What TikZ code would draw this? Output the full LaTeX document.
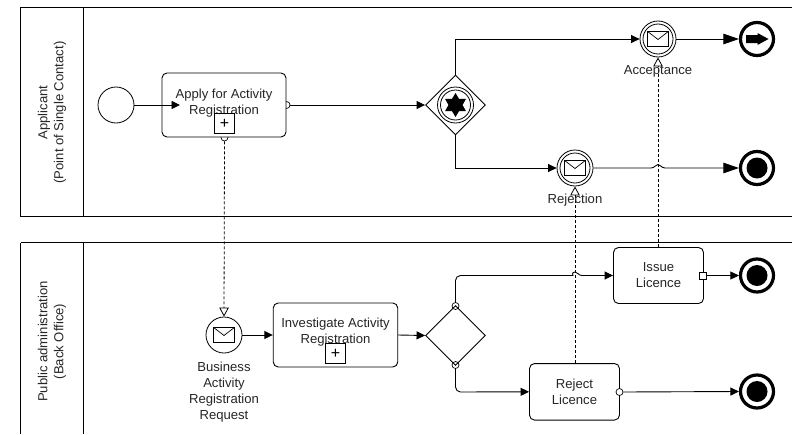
\documentclass[tikz,border=0pt]{standalone}
\usepackage{fontspec}
\setmainfont{Liberation Sans}
\usetikzlibrary{shapes.geometric,arrows.meta,calc}
\tikzset{
  lbl/.style={font=\fontsize{13.1}{16}\selectfont,align=center,inner sep=0pt,text=black!85},
  flow/.style={line width=0.9pt,-{Triangle[length=8.5pt,width=8pt]}},
  bigflow/.style={line width=0.9pt,-{Triangle[length=15.5pt,width=10.5pt]}},
  msg/.style={line width=0.8pt,dash pattern=on 3pt off 2pt,-{Triangle[open,fill=white,length=9pt,width=9.5pt]}},
  taskbox/.style={draw,line width=0.9pt,rounded corners=5pt,fill=white,inner sep=0pt},
  evt/.style={draw,circle,line width=0.8pt,minimum size=36pt,inner sep=0pt,fill=white},
  endevt/.style={draw,circle,line width=3.2pt,minimum size=33pt,inner sep=0pt,fill=white},
  gate/.style={draw,diamond,aspect=1,line width=0.9pt,minimum width=60pt,minimum height=60pt,inner sep=0pt},
  ring/.style={draw,circle,line width=0.7pt,minimum size=7pt,inner sep=0pt,fill=white},
  sq/.style={draw,line width=0.7pt,minimum size=7pt,inner sep=0pt,fill=white},
  plusbox/.style={draw,line width=0.9pt,minimum width=20.5pt,minimum height=20pt,inner sep=0pt,font=\fontsize{16}{16}\selectfont},
  envelope/.pic={\draw[line width=0.7pt] (-10.3,-7.5) rectangle (10.3,7.5);
                 \draw[line width=0.7pt] (-10.3,-7.5) -- (0,0.5) -- (10.3,-7.5);},
  dot/.style={circle,fill=black,minimum size=21pt,inner sep=0pt},
}
\begin{document}
\begin{tikzpicture}[x=1pt,y=-1pt]
\useasboundingbox (0,0) rectangle (792,434);
\fill[white] (0,0) rectangle (792,434);
% pools
\draw[line width=1pt] (792,7.5) -- (20.5,7.5) -- (20.5,216.5) -- (792,216.5);
\draw[line width=0.9pt] (83,7.5) -- (83,216.5);
\draw[line width=0.8pt] (792,242.5) -- (20.5,242.5);
\draw[line width=1pt] (20.5,242.5) -- (20.5,434);
\draw[line width=0.9pt] (83,242.5) -- (83,434);
\node[lbl,rotate=90] (pool1) at (52,112.5) {Applicant\\(Point of Single Contact)};
\node[lbl,rotate=90] (pool2) at (52,341.5) {Public administration\\(Back Office)};
% rings under tasks
\node[ring] (r1) at (286.5,105) {};
\node[ring] (r2) at (224.5,137.5) {};
% nodes
\node[evt] (start) at (116,105) {};
\node[taskbox,minimum width=124pt,minimum height=64pt] (apply) at (224,105) {};
\node[lbl] (applyt) at (224,103) {Apply for Activity\\Registration};
\node[plusbox] (plus1) at (224.5,123.5) {+};
\node[gate,fill=white] (g1) at (455.5,105) {};
\node[draw,circle,line width=0.8pt,minimum size=36pt,inner sep=0pt] (g1o) at (g1.center) {};
\node[draw,circle,line width=0.8pt,minimum size=30pt,inner sep=0pt] (g1i) at (g1.center) {};
\node[star,star points=6,star point ratio=1.7,fill=black,minimum size=24pt,inner sep=0pt] (g1s) at (g1.center) {};
\node[evt] (acc) at (658,39) {};
\node[draw,circle,line width=0.8pt,minimum size=30pt,inner sep=0pt] (acci) at (acc.center) {};
\pic at (acc.center) {envelope};
\node[evt] (rej) at (575,168) {};
\node[draw,circle,line width=0.8pt,minimum size=30pt,inner sep=0pt] (reji) at (rej.center) {};
\pic at (rej.center) {envelope};
\node[endevt] (e1) at (757,39) {};
\node[endevt] (e2) at (757,168) {};
\node[dot] (e2d) at (e2.center) {};
\node[endevt] (e3) at (757,275.5) {};
\node[dot] (e3d) at (e3.center) {};
\node[endevt] (e4) at (757,391.5) {};
\node[dot] (e4d) at (e4.center) {};
\fill (746,35) -- (757.5,35) -- (757.5,33) -- (768.5,39) -- (757.5,45) -- (757.5,43) -- (746,43) -- cycle;
\node[evt] (biz) at (224,335) {};
\pic at (biz.center) {envelope};
\node[taskbox,minimum width=124.5pt,minimum height=64pt] (inv) at (335.5,335) {};
\node[lbl] (invt) at (335.5,332.6) {Investigate Activity\\Registration};
\node[plusbox] (plus2) at (335.5,353.5) {+};
\node[ring] (r3) at (455.5,306) {};
\node[ring] (r4) at (455.5,365) {};
\node[gate] (g2) at (455.5,335.5) {};
\node[taskbox,minimum width=90pt,minimum height=56pt] (issue) at (658.5,275.5) {};
\node[lbl] (issuet) at (658.5,275.5) {Issue\\Licence};
\node[taskbox,minimum width=90pt,minimum height=56.5pt] (rl) at (574.5,391.8) {};
\node[lbl] (rlt) at (574.5,391.5) {Reject\\Licence};
% flows
\coordinate (a1) at (180,105);
\draw[flow] (start.east) -- (a1);
\draw[flow] (r1.east) -- (g1.west);
\draw[flow] (g1.north) |- (acc.west);
\draw[flow] (g1.south) |- (rej.west);
\draw[bigflow] (acc.east) -- (e1.west);
\coordinate (j1) at (658,168);
\draw[bigflow] (rej.east) -- ($(j1)+(-7,0)$) .. controls ($(j1)+(-3,0)$) and ($(j1)+(-3,-3.5)$) .. ($(j1)+(0,-3.5)$) .. controls ($(j1)+(3,-3.5)$) and ($(j1)+(3,0)$) .. ($(j1)+(7,0)$) -- (e2.west);
\draw[flow] (biz.east) -- (inv.west);
\draw[flow] (inv.east) -- (g2.west);
\node[sq] (s1) at (703,275.5) {};
\node[ring] (r5) at (619.5,392) {};
\coordinate (j2) at (575,275.5);
\draw[flow,rounded corners=5pt] (r3.north) -- (455.5,275.5) -- ($(j2)+(-7,0)$) [rounded corners=0pt] .. controls ($(j2)+(-3,0)$) and ($(j2)+(-3,-3.5)$) .. ($(j2)+(0,-3.5)$) .. controls ($(j2)+(3,-3.5)$) and ($(j2)+(3,0)$) .. ($(j2)+(7,0)$) -- (issue.west);
\draw[flow,rounded corners=5pt] (r4.south) -- (455.5,392) -- (rl.west);
\draw[flow] (s1.east) -- (e3.west);
\draw[flow] (r5.east) -- (e4.west);
% messages
\draw[msg] (r2.south) -- (biz.north);
\draw[msg] (issue.north -| acc.south) -- (acc.south);
\draw[msg] (rl.north -| rej.south) -- (rej.south);
\node[lbl] (lacc) at (658,71.5) {Acceptance};
\node[lbl] (lrej) at (575,200.5) {Rejection};
\node[lbl] (lbiz) at (224,392) {Business\\Activity\\Registration\\Request};
\end{tikzpicture}
\end{document}
